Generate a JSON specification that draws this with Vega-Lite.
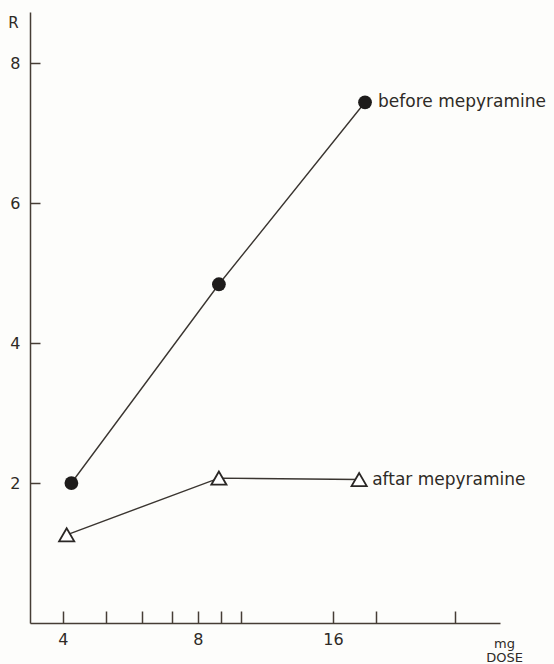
{
  "$schema": "https://vega.github.io/schema/vega-lite/v6.json",
  "width": 470,
  "height": 611,
  "autosize": {"type": "none"},
  "padding": {"left": 30, "top": 12, "right": 54, "bottom": 41},
  "background": "#fdfdfb",
  "config": {
    "view": {"stroke": null},
    "font": "DejaVu Sans",
    "axis": {
      "grid": false,
      "domainColor": "#463d35",
      "domainWidth": 1.5,
      "tickColor": "#463d35",
      "tickWidth": 1.5,
      "labelColor": "#2e2a26",
      "titleColor": "#2e2a26",
      "labelFont": "DejaVu Sans",
      "titleFont": "DejaVu Sans",
      "labelFontWeight": "normal",
      "titleFontWeight": "normal"
    }
  },
  "data": {
    "values": [
      {"series": "before", "dose": 4.18, "R": 2.0, "label": ""},
      {"series": "before", "dose": 8.91, "R": 4.84, "label": ""},
      {"series": "before", "dose": 18.86, "R": 7.44, "label": "before mepyramine"},
      {"series": "after", "dose": 4.08, "R": 1.26, "label": ""},
      {"series": "after", "dose": 8.91, "R": 2.07, "label": ""},
      {"series": "after", "dose": 18.3, "R": 2.05, "label": "aftar mepyramine"}
    ]
  },
  "encoding": {
    "x": {
      "field": "dose",
      "type": "quantitative",
      "scale": {"type": "log", "base": 2, "domain": [3.38, 37.7], "nice": false, "zero": false},
      "axis": {
        "values": [4, 5, 6, 7, 8, 9, 10, 16, 20, 30],
        "labelExpr": "datum.value == 4 || datum.value == 8 || datum.value == 16 ? datum.value : ''",
        "tickSize": -12,
        "labelPadding": 20,
        "labelBaseline": "top",
        "labelFontSize": 16,
        "labelFlush": false,
        "labelOverlap": false,
        "title": ["mg", "DOSE"],
        "titleFontSize": 13,
        "titleLineHeight": 14,
        "titleX": 474,
        "titleY": 14,
        "titleAlign": "center",
        "titleBaseline": "top",
        "titleAnchor": null
      }
    },
    "y": {
      "field": "R",
      "type": "quantitative",
      "scale": {"domain": [0, 8.73], "nice": false, "zero": true},
      "axis": {
        "values": [2, 4, 6, 8],
        "format": "d",
        "tickSize": -10,
        "labelPadding": 20,
        "labelFontSize": 16,
        "title": "R",
        "titleAngle": 0,
        "titleFontSize": 15,
        "titleX": -17,
        "titleY": 10,
        "titleAlign": "center",
        "titleBaseline": "middle"
      }
    }
  },
  "layer": [
    {
      "mark": {"type": "line", "color": "#3a3530", "strokeWidth": 1.4},
      "encoding": {"detail": {"field": "series"}}
    },
    {
      "transform": [{"filter": "datum.series == 'before'"}],
      "mark": {"type": "point", "shape": "circle", "filled": true, "color": "#1e1c1b", "size": 190, "opacity": 1}
    },
    {
      "transform": [{"filter": "datum.series == 'after'"}],
      "mark": {"type": "point", "shape": "triangle-up", "filled": true, "fill": "#ffffff", "stroke": "#2a2725", "strokeWidth": 1.8, "size": 230, "opacity": 1}
    },
    {
      "transform": [{"filter": "datum.label != ''"}],
      "mark": {"type": "text", "align": "left", "baseline": "middle", "dx": 13, "fontSize": 17, "color": "#2e2a26", "font": "DejaVu Sans"},
      "encoding": {"text": {"field": "label"}}
    }
  ]
}
